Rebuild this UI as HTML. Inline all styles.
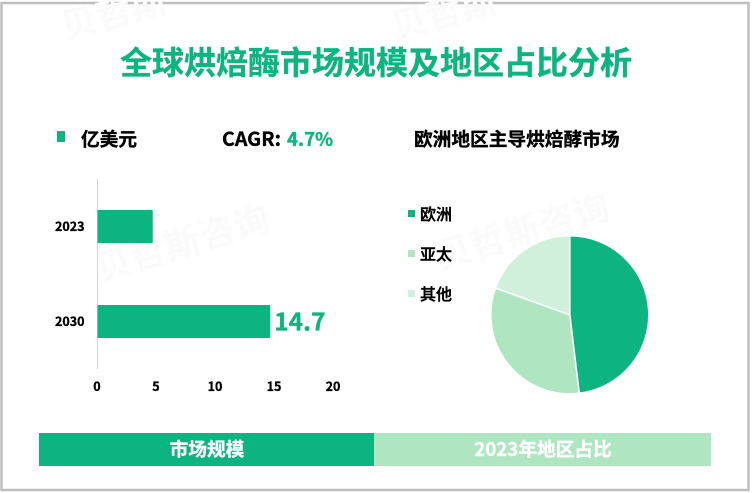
<!DOCTYPE html>
<html lang="zh">
<head>
<meta charset="utf-8">
<title>全球烘焙酶市场规模及地区占比分析</title>
<style>
html,body{margin:0;padding:0;background:#fff;width:752px;height:493px;overflow:hidden}
svg{display:block;font-family:"Liberation Sans","Noto Sans CJK SC",sans-serif}
.cjk{font-family:"Noto Sans CJK SC","Liberation Sans",sans-serif}
.heavy{stroke-width:.35;paint-order:stroke}
</style>
</head>
<body>
<svg id="chart" width="752" height="493" viewBox="0 0 752 493" xmlns="http://www.w3.org/2000/svg">
  <rect x="0" y="0" width="752" height="493" fill="#fff"/>
  <rect x="1.5" y="3" width="747" height="487" fill="none" stroke="#bfbfbf" stroke-width="2.5"/>
  <g class="cjk" fill="#fbfbfb" font-size="36" font-weight="700">
    <text x="65" y="40" transform="rotate(-15 65 40)">贝哲斯</text>
    <text x="395" y="40" transform="rotate(-15 395 40)">贝哲斯</text>
    <text x="100" y="282" transform="rotate(-17 100 282)">贝哲斯咨询</text>
    <text x="440" y="270" transform="rotate(-17 440 270)">贝哲斯咨询</text>
  </g>
  <text class="cjk heavy" x="376" y="74" text-anchor="middle" font-size="32" font-weight="700" fill="#0db47f" stroke="#0db47f">全球烘焙酶市场规模及地区占比分析</text>
  <rect x="57" y="131" width="8" height="11" fill="#0db47f"/>
  <text class="cjk heavy" x="81" y="146" font-size="18.7" font-weight="700" fill="#000" stroke="#000">亿美元</text>
  <text class="cjk heavy" x="222" y="146" font-size="19.6" font-weight="700" fill="#000" stroke="#000">CAGR:</text>
  <text class="cjk heavy" x="287" y="146" font-size="18.7" font-weight="700" fill="#0db47f" stroke="#0db47f">4.7%</text>
  <text class="cjk heavy" x="414" y="146" font-size="18.7" font-weight="700" fill="#000" stroke="#000">欧洲地区主导烘焙酵市场</text>
  <g id="bars"></g>
  <g id="pie"></g>
  <g id="legend"></g>
  <rect x="39" y="433" width="335" height="33" fill="#0db47f"/>
  <rect x="374" y="433" width="337" height="33" fill="#afe6c1"/>
  <text class="cjk heavy" x="207" y="456" text-anchor="middle" font-size="18.7" font-weight="700" fill="#fff" stroke="#fff">市场规模</text>
  <text class="cjk heavy" x="543" y="456" text-anchor="middle" font-size="18.7" font-weight="700" fill="#fff" stroke="#fff">2023年地区占比</text>
</svg>
<script>
const barCategories = ['2023', '2030'];
const barValues = [4.7, 14.7];
const barValueLabels = ['', '14.7'];
const xTicks = [0, 5, 10, 15, 20];
const pieLabels = ['欧洲', '亚太', '其他'];
const pieValues = [48.1, 32.4, 19.5];

const NS = 'http://www.w3.org/2000/svg';
const GREEN = '#0db47f';
const pieColors = ['#0db47f', '#afe6c1', '#d0f0dc'];
function make(parent, tag, attrs, text) {
  const el = document.createElementNS(NS, tag);
  for (const k in attrs) el.setAttribute(k, attrs[k]);
  if (text !== undefined) el.textContent = text;
  parent.appendChild(el);
  return el;
}
const xScale = v => 97.5 + v * 11.75;
const bandY = i => 210 + i * 95;
const barH = 33;

const barsG = document.getElementById('bars');
const axisLine = make(barsG, 'line', {x1: 97.5, x2: 97.5, y1: 179, y2: 369, stroke: '#d4d4d4', 'stroke-width': 1});


barCategories.forEach((c, i) => {
  const bar = make(barsG, 'rect', {x: xScale(0), y: bandY(i), width: xScale(barValues[i]) - xScale(0), height: barH, fill: GREEN});
  
  
  const lab = make(barsG, 'text', {class: 'cjk heavy', x: 84.5, y: bandY(i) + barH / 2 + 4.5, 'text-anchor': 'end', 'font-size': 12.5, 'font-weight': 700, fill: '#000', stroke: '#000'}, c);
  
  
  if (barValueLabels[i]) {
    const val = make(barsG, 'text', {class: 'cjk heavy', x: xScale(barValues[i]) + 4, y: bandY(i) + barH / 2 + 9, 'font-size': 24.5, 'font-weight': 700, fill: GREEN, stroke: GREEN}, barValueLabels[i]);
    
    
  }
});
xTicks.forEach(t => {
  const tick = make(barsG, 'text', {class: 'cjk heavy', x: 97 + t * 11.8, y: 391, 'text-anchor': 'middle', 'font-size': 12.5, 'font-weight': 700, fill: '#000', stroke: '#000'}, t);
  
  
});

const cx = 569.8, cy = 314.8, r = 79;
const pieG = document.getElementById('pie');
const pieTotal = pieValues.reduce((a, b) => a + b, 0);
let acc = 0;
pieValues.forEach((v, i) => {
  const a0 = acc / pieTotal * 2 * Math.PI;
  acc += v;
  const a1 = acc / pieTotal * 2 * Math.PI;
  const large = a1 - a0 > Math.PI ? 1 : 0;
  const d = 'M' + cx + ' ' + cy +
    'L' + (cx + r * Math.sin(a0)) + ' ' + (cy - r * Math.cos(a0)) +
    'A' + r + ' ' + r + ' 0 ' + large + ' 1 ' + (cx + r * Math.sin(a1)) + ' ' + (cy - r * Math.cos(a1)) + 'Z';
  const slice = make(pieG, 'path', {d: d, fill: pieColors[i], stroke: '#fff', 'stroke-width': 1.5});
  
  
});

const legendG = document.getElementById('legend');
pieLabels.forEach((l, i) => {
  const y = 210 + i * 40;
  const sw = make(legendG, 'rect', {x: 408, y: y, width: 7, height: 7, fill: pieColors[i]});
  
  
  const tx = make(legendG, 'text', {x: 420, y: y + 10, 'font-size': 16, 'font-weight': 500, fill: '#000', stroke: '#000', 'stroke-width': 0.4, class: 'cjk'}, l);
  
  
});
</script>
</body>
</html>
